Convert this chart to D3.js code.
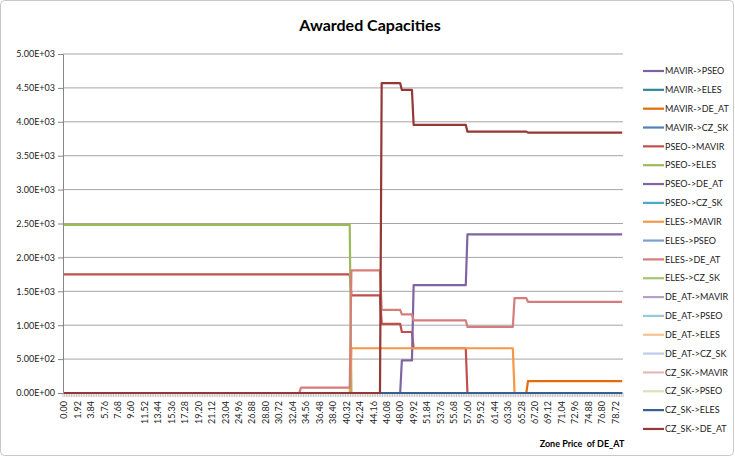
<!DOCTYPE html>
<html>
<head>
<meta charset="utf-8">
<script src="https://cdn.jsdelivr.net/npm/d3@7"></script>
<style>
  html, body { margin: 0; padding: 0; background: #fff; }
  svg { display: block; font-family: Lato, "Open Sans", sans-serif; }
</style>
</head>
<body>
<svg id="chart" width="735" height="457"></svg>
<script>
// Price at which each step segment starts (zone price of DE_AT)
const segmentStarts = [0.00, 33.84, 41.04, 45.36, 48.24, 49.92, 57.60, 64.32, 66.24];
const lastPrice = 79.68;
const priceStep = 0.24;

// Flow names in legend order
const seriesNames = [
  "MAVIR->PSEO", "MAVIR->ELES", "MAVIR->DE_AT", "MAVIR->CZ_SK",
  "PSEO->MAVIR", "PSEO->ELES", "PSEO->DE_AT", "PSEO->CZ_SK",
  "ELES->MAVIR", "ELES->PSEO", "ELES->DE_AT", "ELES->CZ_SK",
  "DE_AT->MAVIR", "DE_AT->PSEO", "DE_AT->ELES", "DE_AT->CZ_SK",
  "CZ_SK->MAVIR", "CZ_SK->PSEO", "CZ_SK->ELES", "CZ_SK->DE_AT"
];

const seriesColors = [
  "#7f62a3", "#31859c", "#e46c0a", "#4f81bd",
  "#c0504d", "#9bbb59", "#8064a2", "#4bacc6",
  "#f79646", "#7f9fd0", "#d67d7b", "#a5c470",
  "#b3a2c7", "#93cddd", "#fac090", "#b9cde5",
  "#e6b9b8", "#d7e4bd", "#376092", "#953735"
];

// Awarded capacity per segment (one value for each entry of segmentStarts)
const mavirPseo  = [0, 0, 0, 0, 0, 0, 0, 0, 0];
const mavirEles  = [0, 0, 0, 0, 0, 0, 0, 0, 0];
const mavirDeAt  = [0, 0, 0, 0, 0, 0, 0, 0, 175];
const mavirCzSk  = [0, 0, 0, 0, 0, 0, 0, 0, 0];
const pseoMavir  = [1750, 1750, 1440, 1020, 900, 660, 0, 0, 0];
const pseoEles   = [2480, 2480, 0, 0, 0, 0, 0, 0, 0];
const pseoDeAt   = [0, 0, 0, 0, 480, 1590, 2340, 2340, 2340];
const pseoCzSk   = [0, 0, 0, 0, 0, 0, 0, 0, 0];
const elesMavir  = [0, 0, 660, 660, 660, 660, 660, 0, 0];
const elesPseo   = [0, 0, 0, 0, 0, 0, 0, 0, 0];
const elesDeAt   = [0, 80, 1810, 1225, 1160, 1070, 975, 1400, 1345];
const elesCzSk   = [0, 0, 0, 0, 0, 0, 0, 0, 0];
const deAtMavir  = [0, 0, 0, 0, 0, 0, 0, 0, 0];
const deAtPseo   = [0, 0, 0, 0, 0, 0, 0, 0, 0];
const deAtEles   = [0, 0, 0, 0, 0, 0, 0, 0, 0];
const deAtCzSk   = [0, 0, 0, 0, 0, 0, 0, 0, 0];
const czSkMavir  = [0, 0, 0, 0, 0, 0, 0, 0, 0];
const czSkPseo   = [0, 0, 0, 0, 0, 0, 0, 0, 0];
const czSkEles   = [0, 0, 0, 0, 0, 0, 0, 0, 0];
const czSkDeAt   = [0, 0, 0, 4570, 4470, 3955, 3855, 3855, 3840];

const seriesValues = [
  mavirPseo, mavirEles, mavirDeAt, mavirCzSk,
  pseoMavir, pseoEles, pseoDeAt, pseoCzSk,
  elesMavir, elesPseo, elesDeAt, elesCzSk,
  deAtMavir, deAtPseo, deAtEles, deAtCzSk,
  czSkMavir, czSkPseo, czSkEles, czSkDeAt
];

const xTickLabels = [
  "0.00", "1.92", "3.84", "5.76", "7.68", "9.60", "11.52", "13.44", "15.36", "17.28",
  "19.20", "21.12", "23.04", "24.96", "26.88", "28.80", "30.72", "32.64", "34.56", "36.48",
  "38.40", "40.32", "42.24", "44.16", "46.08", "48.00", "49.92", "51.84", "53.76", "55.68",
  "57.60", "59.52", "61.44", "63.36", "65.28", "67.20", "69.12", "71.04", "72.96", "74.88",
  "76.80", "78.72"
];
const yTickValues = [0, 500, 1000, 1500, 2000, 2500, 3000, 3500, 4000, 4500, 5000];

const svg = d3.select("#chart");
const plot = { left: 63, right: 623, top: 54, bottom: 393 };

const x = d3.scaleLinear()
  .domain([-priceStep / 2, lastPrice + priceStep / 2])
  .range([plot.left, plot.right]);
const y = d3.scaleLinear().domain([0, 5000]).range([plot.bottom, plot.top]);

// Outer chart frame
svg.append("rect")
  .attr("x", 0.5).attr("y", 0.5).attr("width", 733).attr("height", 455)
  .attr("rx", 4)
  .attr("fill", "#fff").attr("stroke", "#c8c8c8");

// Title
svg.append("text")
  .attr("x", 370).attr("y", 31)
  .attr("text-anchor", "middle")
  .attr("font-size", 16).attr("font-weight", "bold")
  .attr("fill", "#000")
  .text("Awarded Capacities");

// Horizontal gridlines
svg.append("g").selectAll("line")
  .data(yTickValues.slice(1))
  .join("line")
  .attr("x1", plot.left).attr("x2", plot.right)
  .attr("y1", d => y(d)).attr("y2", d => y(d))
  .attr("stroke", "#a6a6a6").attr("stroke-width", 1);

// Y axis in scientific notation
const sci = v => {
  const [m, e] = v.toExponential(2).split("e");
  const n = Math.abs(+e);
  return m + "E" + (+e < 0 ? "-" : "+") + String(n).padStart(2, "0");
};
const yAxis = d3.axisLeft(y).tickValues(yTickValues).tickFormat(sci).tickSize(5).tickPadding(3);
const gy = svg.append("g").attr("transform", `translate(${plot.left},0)`).call(yAxis);
gy.select(".domain").attr("stroke", "#868686");
gy.selectAll(".tick line").attr("stroke", "#868686");
gy.selectAll(".tick text").attr("font-size", 9).attr("fill", "#222").attr("font-family", "Lato, sans-serif");

// X axis: one minor tick per price category, labels every 1.92
const nCats = Math.round(lastPrice / priceStep) + 1;
const gx = svg.append("g");
gx.selectAll("line.minor")
  .data(d3.range(nCats + 1))
  .join("line")
  .attr("class", "minor")
  .attr("x1", i => x(i * priceStep - priceStep / 2))
  .attr("x2", i => x(i * priceStep - priceStep / 2))
  .attr("y1", plot.bottom).attr("y2", plot.bottom + 4)
  .attr("stroke", "#9a9a9a").attr("stroke-width", 0.6);
gx.append("line")
  .attr("x1", plot.left).attr("x2", plot.right)
  .attr("y1", plot.bottom).attr("y2", plot.bottom)
  .attr("stroke", "#868686");
gx.selectAll("text")
  .data(xTickLabels)
  .join("text")
  .attr("transform", d => `translate(${x(+d) + 3.3},${plot.bottom + 8}) rotate(-90)`)
  .attr("text-anchor", "end")
  .attr("font-size", 9).attr("fill", "#222")
  .text(d => d);

// X axis title
svg.append("text")
  .attr("x", 582).attr("y", 447)
  .attr("text-anchor", "middle")
  .attr("font-size", 9).attr("font-weight", "bold")
  .attr("xml:space", "preserve")
  .text("Zone Price  of DE_AT");

// Step series: a point at the first and last category of each segment
const line = d3.line().x(d => x(d[0])).y(d => y(d[1]));
function points(vals) {
  const pts = [];
  segmentStarts.forEach((s, i) => {
    const end = i + 1 < segmentStarts.length ? segmentStarts[i + 1] - priceStep : lastPrice;
    pts.push([s, vals[i]]);
    pts.push([end, vals[i]]);
  });
  return pts;
}
svg.append("g").selectAll("path")
  .data(seriesValues)
  .join("path")
  .attr("d", d => line(points(d)))
  .attr("fill", "none")
  .attr("stroke", (d, i) => seriesColors[i])
  .attr("stroke-width", 2.2)
  .attr("stroke-linejoin", "round");

// Legend
const lg = svg.append("g").selectAll("g")
  .data(seriesNames)
  .join("g")
  .attr("transform", (d, i) => `translate(643,${71 + i * 18.84})`);
lg.append("line")
  .attr("x1", 0).attr("x2", 21)
  .attr("stroke", (d, i) => seriesColors[i]).attr("stroke-width", 2.2);
lg.append("text")
  .attr("x", 22).attr("y", 3.2)
  .attr("font-size", 9).attr("fill", "#222")
  .text(d => d);
</script>
</body>
</html>
